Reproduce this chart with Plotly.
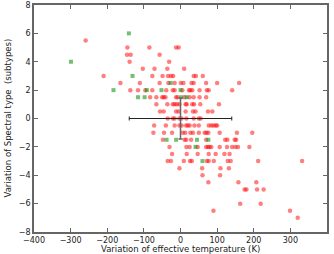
import plotly.graph_objects as go

# ---- data ----
red_rows = {
    5.5: [-259],
    5.0: [-145, -85, -12, -5],
    4.5: [-146, -136, -57],
    4.0: [-139, -31],
    3.5: [-103, -71, -36, 10],
    3.0: [-210, -77, -49, -34, -26, -20, 36, 42, 61],
    2.5: [-164, -111, -57, -33, -16, 1, 8, 30, 36, 70, 100, 160],
    2.0: [-137, -116, -96, -77, -39, -21, -16, 5, 23, 27, 32, 52, 72, 77, 141],
    1.5: [-83, -66, -50, -46, -41, -12, -8, 11, 25, 36, 52, 70],
    1.0: [-66, -36, -21, -16, -10, -3, 14, 17, 32, 37, 54, 105],
    0.5: [-56, -46, -12, -5, 14, 34, 41, 75, 87],
    0.0: [-35, -21, -16, -3, 3, 16, 36, 50, 55],
    -0.5: [-72, -40, -16, -3, 3, 15, 20, 25, 38, 50, 77, 84, 90, 96, 100],
    -1.0: [-74, -45, -23, 6, 13, 27, 34, 50, 66, 71, 76, 107, 154, 196],
    -1.5: [-48, 11, 16, 29, 70, 122, 128, 148, 152],
    -2.0: [-30, 16, 25, 47, 70, 75, 79, 84, 107, 127, 141, 150, 157, 188],
    -2.5: [-23, 17, 47, 77, 96, 120, 134],
    -3.0: [-35, -26, 9, 26, 31, 72, 77, 91, 129, 137, 212, 332],
    -3.5: [-3, 59, 109, 132],
    -4.0: [60, 108],
    -4.5: [76, 158, 207],
    -5.0: [175, 180, 209, 227],
    -6.0: [163, 219],
    -6.5: [90, 299],
    -7.0: [320],
}
red_x = [x for y, xs in red_rows.items() for x in xs]
red_y = [y for y, xs in red_rows.items() for x in xs]

green_x = [-141, -299, -131, -27, -183, -92, -52, 0, -116, -98, 2, 17, -38, -12, 45, 76, 41, 60]
green_y = [6, 4, 3, 2.5, 2, 2, 2, 2, 1.5, 1.5, 1.5, 1.5, -1.5, -1.5, -1.5, -1.5, -2, -3]

mean_x = [0]
mean_y = [0]
err_x = [140]
err_y = [1.45]

x_ticks = [-400, -300, -200, -100, 0, 100, 200, 300, 400]
y_ticks = [-8, -6, -4, -2, 0, 2, 4, 6, 8]
x_title = "Variation of effective temperature (K)"
y_title = "Variation of Spectral type  (subtypes)"

fig = go.Figure()
fig.add_trace(go.Scatter(
    x=red_x, y=red_y, mode="markers",
    marker=dict(color="rgba(255,0,0,0.5)", size=4.5, symbol="circle", line=dict(width=0)),
    hoverinfo="skip", showlegend=False))
fig.add_trace(go.Scatter(
    x=green_x, y=green_y, mode="markers",
    marker=dict(color="rgba(0,140,0,0.55)", size=4, symbol="square", line=dict(width=0)),
    hoverinfo="skip", showlegend=False))
fig.add_trace(go.Scatter(
    x=mean_x, y=mean_y, mode="markers",
    marker=dict(size=0.1, color="rgba(0,0,0,0)"),
    error_x=dict(type="data", array=err_x, color="#222", thickness=1, width=2),
    error_y=dict(type="data", array=err_y, color="#666", thickness=1.5, width=2),
    hoverinfo="skip", showlegend=False))

tick_font = dict(family="DejaVu Sans", size=8, color="#222")
title_font = dict(family="DejaVu Sans", size=8.5, color="#222")
axis_common = dict(
    showline=True, linecolor="#666", linewidth=1.5, mirror="ticks",
    ticks="inside", ticklen=4, tickcolor="#666", tickwidth=1,
    showgrid=False, zeroline=False, tickfont=tick_font, automargin=False,
)
fig.update_xaxes(range=[-400, 400], tickvals=x_ticks,
                 ticktext=[str(v).replace("-", "\u2212") for v in x_ticks],
                 **axis_common)
fig.update_yaxes(range=[-8, 8], tickvals=y_ticks,
                 ticktext=[str(v).replace("-", "\u2212") for v in y_ticks],
                 **axis_common)
fig.add_annotation(text=x_title, xref="paper", yref="paper", x=0.5, y=0,
                   xanchor="center", yanchor="top", yshift=-10,
                   showarrow=False, font=title_font)
fig.add_annotation(text=y_title, xref="paper", yref="paper", x=0, y=0.5,
                   xanchor="center", yanchor="middle", xshift=-27, textangle=-90,
                   showarrow=False, font=title_font)
fig.update_layout(
    width=334, height=254,
    margin=dict(l=34, r=7, t=5, b=22),
    paper_bgcolor="white", plot_bgcolor="white",
    hovermode=False,
)
fig.write_html("out.html", config={"displayModeBar": False},
               post_script="document.body.style.margin='0';document.body.style.padding='0';")
